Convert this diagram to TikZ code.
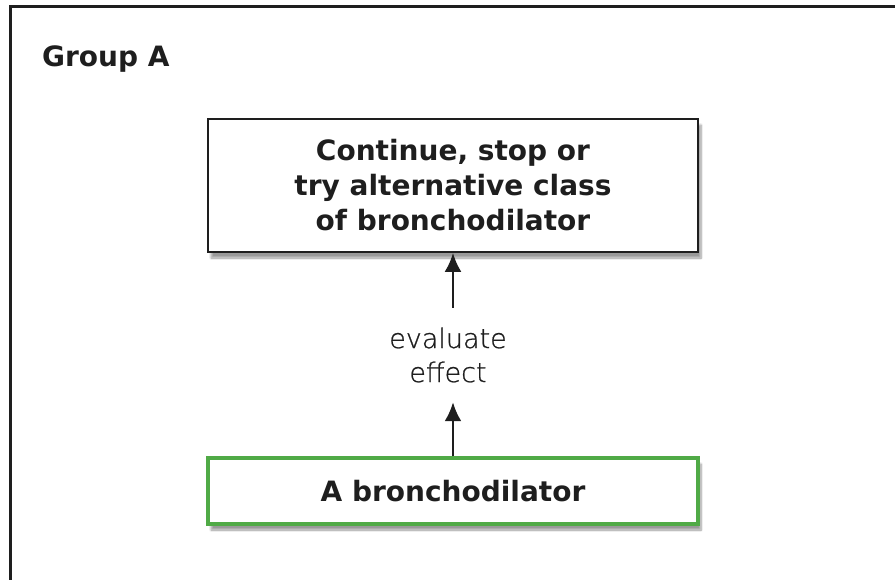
\documentclass[tikz,border=0pt]{standalone}
\usepackage{fontspec}
\setmainfont{DejaVu Sans}
\newfontfamily\lightfont[FakeBold=0.8]{DejaVu Sans ExtraLight}
\usepackage{tikz}
\usetikzlibrary{positioning}
\usetikzlibrary{arrows.meta}
\usetikzlibrary{shadows.blur}
\definecolor{boxgreen}{RGB}{80,170,70}
\definecolor{inkgrey}{RGB}{30,30,30}

\begin{document}
\begin{tikzpicture}[x=1pt, y=-1pt,
		box/.style={draw=inkgrey, line width=1.7pt, fill=white, minimum width=490pt, align=center,
			font=\fontsize{28}{35}\selectfont\bfseries, text=inkgrey,
			blur shadow={shadow xshift=3pt, shadow yshift=-6pt, shadow blur steps=8, shadow opacity=40}},
		link/.style={line width=2.6pt, draw=inkgrey, -{Latex[length=19pt,width=17pt]}}]
				\useasboundingbox (0,0) rectangle (895,580);
				\clip (0,0) rectangle (895,580);
				\draw[line width=3pt, draw=inkgrey] (10,7) rectangle (915,600);
				
				\node[anchor=base west, font=\fontsize{28}{32}\selectfont\bfseries, text=inkgrey, inner sep=0pt] (group) at (42,67) {Group A};
				
				\node[box, minimum height=133pt] (next) at (453,185.5) {Continue, stop or\\ try alternative class\\ of bronchodilator};
				\node[box, draw=boxgreen, line width=3.2pt, minimum height=66pt] (bd) at (453,491) {A bronchodilator};
				\node[align=center, minimum height=94pt, inner sep=0pt, text=inkgrey, font=\lightfont\fontsize{27}{34}\selectfont] (eval) at (448,355) {evaluate\\ effect};
				
				\draw[link] (bd) -- (bd |- eval.south);
				\draw[link] (bd |- eval.north) -- (next);
			\end{tikzpicture}
\end{document}
